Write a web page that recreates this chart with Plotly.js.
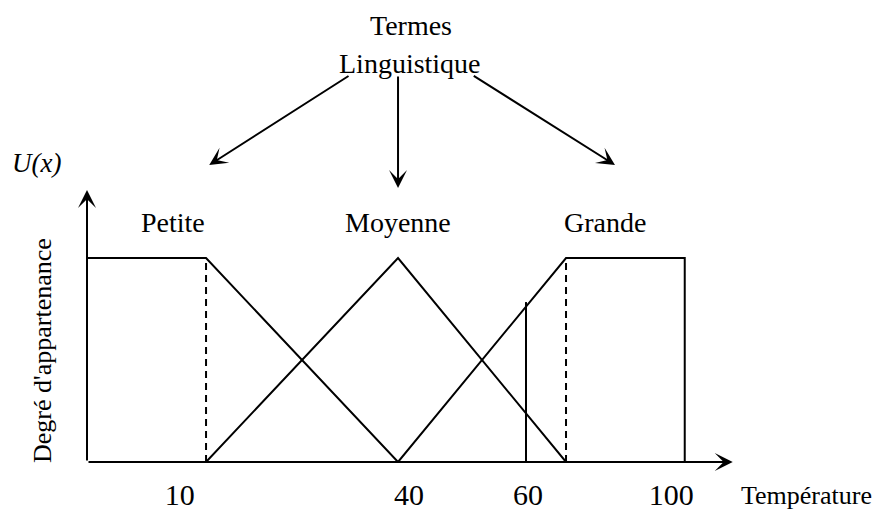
<!DOCTYPE html>
<html>
<head>
<meta charset="utf-8">
<script src="https://cdn.plot.ly/plotly-3.0.1.min.js"></script>
<style>html,body{margin:0;padding:0;background:#fff;}#chart{width:883px;height:513px;}</style>
</head>
<body>
<div id="chart"></div>
<script>
// ---- data (x in drawing units: 10 and 40 as labelled; ends as drawn) ----
const xOrigin = -8.6;
const xAxisEnd = 92.3;
const yAxisTop = 1.333;

const petiteX = [xOrigin, 10, 40];
const petiteY = [1, 1, 0];

const moyenneX = [10, 40, 66.25];
const moyenneY = [0, 1, 0];

const grandeX = [40, 66.25, 84.8, 84.8];
const grandeY = [0, 1, 1, 0];

const dashLeftX = [10, 10];
const dashRightX = [66.25, 66.25];
const dashY = [0, 1];

const tempX = [60, 60];
const tempY = [0, 0.784];

// tick labels sit where they are printed in the figure
const tickVals = [5.9, 41.7, 60.3, 82.7];
const tickText = ['10', '40', '60', '100'];

const termLabels = ['Petite', 'Moyenne', 'Grande'];
const termLabelX = [4.8, 40, 72.3];
const termLabelY = 1.176;

// ---- drawing ----
const FONT = 'Liberation Serif, Times New Roman, serif';
const solid = {color: '#000', width: 2};
const dashed = {color: '#000', width: 2, dash: '7px,5px'};
const L = 87, T = 0, W = 796, H = 462;
function px(x) { return (x - L) / W; }
function py(y) { return (H + T - y) / H; }

function tr(x, y, line) {
  return {x: x, y: y, type: 'scatter', mode: 'lines', line: line,
          hoverinfo: 'skip', showlegend: false, cliponaxis: false};
}

const traces = [
  tr(petiteX, petiteY, solid),
  tr(moyenneX, moyenneY, solid),
  tr(grandeX, grandeY, solid),
  tr(dashLeftX, dashY, dashed),
  tr(dashRightX, dashY, dashed),
  tr(tempX, tempY, solid)
];

function arrow(x0, y0, x1, y1) {
  return {x: x1, y: y1, ax: x0, ay: y0, xref: 'x', yref: 'y', axref: 'x', ayref: 'y',
          text: '', showarrow: true, arrowhead: 3, arrowsize: 1.5, arrowwidth: 2,
          arrowcolor: '#000', standoff: 0, startstandoff: 0};
}
function label(x, y, text, size, extra) {
  const a = {x: px(x), y: py(y), xref: 'paper', yref: 'paper', text: text, showarrow: false,
             xanchor: 'center', yanchor: 'middle',
             font: {family: FONT, size: size, color: '#000'}};
  return Object.assign(a, extra || {});
}

const annotations = [
  arrow(xOrigin, 0, xAxisEnd, 0),
  arrow(xOrigin, 0, xOrigin, yAxisTop),
  arrow(32.5, 1.897, 10.5, 1.456),
  arrow(40, 1.897, 40, 1.343),
  arrow(51.6, 1.897, 73.9, 1.456),
  label(411, 25, 'Termes', 28),
  label(410, 64, 'Linguistique', 28),
  label(36, 163, '<i>U(x)</i>', 27),
  label(42, 351, "Degré d'appartenance", 26, {textangle: -90}),
  label(806, 495, 'Température', 26)
];
termLabels.forEach(function (t, i) {
  annotations.push({x: termLabelX[i], y: termLabelY, xref: 'x', yref: 'y', text: t, showarrow: false,
                    font: {family: FONT, size: 28, color: '#000'}});
});

const layout = {
  width: 883, height: 513,
  margin: {l: L, r: 0, t: T, b: 51},
  paper_bgcolor: '#fff', plot_bgcolor: '#fff',
  showlegend: false,
  xaxis: {range: [xOrigin, 115.78], showgrid: false, zeroline: false, showline: false,
          tickmode: 'array', tickvals: tickVals, ticktext: tickText, ticks: '',
          ticklabelstandoff: 12,
          tickfont: {family: FONT, size: 30, color: '#000'}, fixedrange: true},
  yaxis: {range: [0, 2.2647], showgrid: false, zeroline: false, showline: false,
          showticklabels: false, ticks: '', fixedrange: true},
  annotations: annotations
};

Plotly.newPlot('chart', traces, layout, {displayModeBar: false, staticPlot: true});
</script>
</body>
</html>
